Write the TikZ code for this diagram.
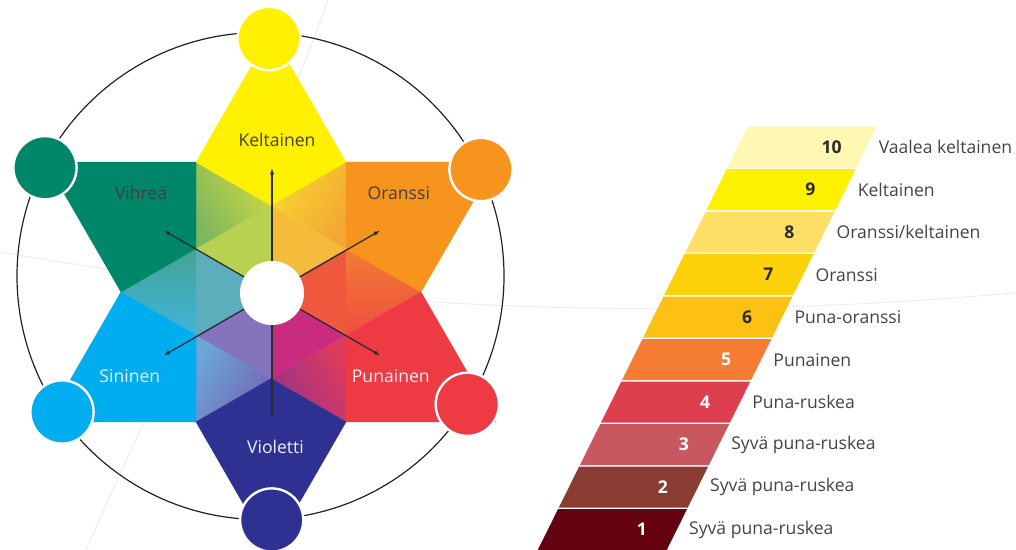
\documentclass[tikz,border=0pt]{standalone}
\usepackage{fontspec}
\setmainfont{Open Sans}
\usetikzlibrary{arrows.meta,
	calc,
	positioning}
\definecolor{cRed}{HTML}{EE3A43}
\definecolor{cVio}{HTML}{2E3192}
\definecolor{cBlu}{HTML}{00AEEF}
\definecolor{cGre}{HTML}{00876A}
\definecolor{cYel}{HTML}{FFF100}
\definecolor{cOra}{HTML}{F7941D}
% blends between neighbouring petals
\definecolor{pOR}{HTML}{F37C36}
\definecolor{pRO}{HTML}{EE4E3F}
\definecolor{pRV}{HTML}{DF3B5C}
\definecolor{pVR}{HTML}{9C3189}
\definecolor{pVB}{HTML}{7467B4}
\definecolor{pBV}{HTML}{6BA6DA}
\definecolor{pBG}{HTML}{3FB4DC}
\definecolor{pGB}{HTML}{45A394}
\definecolor{pGY}{HTML}{7DB75E}
\definecolor{pYG}{HTML}{CDD742}
\definecolor{pYO}{HTML}{F6D62F}
\definecolor{pOY}{HTML}{F4A734}
\definecolor{mOR}{HTML}{F0583E}
\definecolor{mRV}{HTML}{C92C7E}
\definecolor{mVB}{HTML}{8374BC}
\definecolor{mBG}{HTML}{5CAEBC}
\definecolor{mGY}{HTML}{B6D250}
\definecolor{mYO}{HTML}{F5BC3C}
% scale bands
\definecolor{b10}{HTML}{FFF8B2}
\definecolor{b9}{HTML}{FFF200}
\definecolor{b8}{HTML}{FFDF66}
\definecolor{b7}{HTML}{FDD20A}
\definecolor{b6}{HTML}{FDC113}
\definecolor{b5}{HTML}{F47D33}
\definecolor{b4}{HTML}{DD3F4E}
\definecolor{b3}{HTML}{C9575F}
\definecolor{b2}{HTML}{8B3C32}
\definecolor{b1}{HTML}{630210}
\definecolor{txtdark}{HTML}{2B2B2B}
\definecolor{txtgray}{HTML}{444444}
\definecolor{txtlight}{HTML}{EEF0F5}
\definecolor{ringcol}{HTML}{222222}
\tikzset{
	lbl/.style={font=\fontsize{12.5}{15}\selectfont, text=txtdark!90},
	lbllight/.style={lbl, text=txtlight},
	dot/.style={circle, minimum size=1.58cm, inner sep=0pt, draw=white, line width=0.06cm},
	hub/.style={circle, fill=white, minimum size=1.6cm, inner sep=0pt},
	spoke/.style={draw=txtdark, line width=0.032cm, -{Latex[length=0.16cm,width=0.11cm]}},
	ring/.style={draw=ringcol, line width=0.03cm},
	faint/.style={draw=black!7, line width=0.025cm},
	num/.style={font=\fontsize{12.5}{15}\selectfont\bfseries, inner sep=0pt},
	capt/.style={font=\fontsize{12.5}{15}\selectfont, text=txtgray, inner sep=0pt},
}

\begin{document}
\begin{tikzpicture}[x=0.025cm,y=-0.025cm]
\useasboundingbox (0,0) rectangle (1016,550);
\draw[faint] (0,252) arc[start angle=99.8, end angle=84.8, radius=3895];
\draw[faint] (328,0) .. controls (260,190) and (160,380) .. (86,550);
\draw[ring] (260.5,276) circle (243.5);

\coordinate (c) at (271,292);
\foreach \k in {0,...,5}{
	\path (c) ++({30+60*\k}:259.8) coordinate (t\k);
	\path (c) ++({60*\k}:150) coordinate (h\k);
	\path (c) ++({30+60*\k}:86.6) coordinate (p\k);
}
\foreach \k/\ca/\cb/\cc in {0/pOR/pRO/mOR,1/pRV/pVR/mRV,2/pVB/pBV/mVB,3/pBG/pGB/mBG,4/pGY/pYG/mGY,5/pYO/pOY/mYO}{
	\pgfmathtruncatemacro\km{mod(\k+5,6)}
	\pgfmathsetmacro\sa{180-60*\k}
	\filldraw[\cc, line width=0.3pt, line join=round] (c) -- (p\km) -- (p\k) -- cycle;
	\shade[bottom color=\ca, top color=\cb, shading angle=\sa] (h\k) -- (p\km) -- (p\k) -- cycle;
}
\foreach \k/\pc in {0/cRed,1/cVio,2/cBlu,3/cGre,4/cYel,5/cOra}{
	\pgfmathtruncatemacro\kk{mod(\k+1,6)}
	\filldraw[\pc, line width=0.3pt, line join=round] (t\k) -- (h\k) -- (p\k) -- (h\kk) -- cycle;
}

\node[hub] (hub) at (272,293) {};
\foreach \a [count=\i] in {270,330,30,90,150,210}{
	\path (hub.center) ++(\a:125) coordinate (s\i);
	\draw[spoke] (hub) -- (s\i);
}

\foreach \nm/\col/\x/\y in {yel/cYel/269/38.5, ora/cOra/481/169.5, red/cRed/467.3/404.3,
	vio/cVio/271.7/520, blu/cBlu/62/412, gre/cGre/45/167.7}
	\node[dot, fill=\col] (d\nm) at (\x,\y) {};

\node[lbl] (kelt) at (277,139.6) {Keltainen};
\node[lbl] (vihr) at (141,193) {Vihreä};
\node[lbl] (oran) at (398.8,193) {Oranssi};
\node[lbllight] (sini) at (129.8,376.4) {Sininen};
\node[lbllight] (puna) at (390.8,376.4) {Punainen};
\node[lbllight] (viol) at (275.5,447) {Violetti};

\foreach \n/\col/\nc/\txt [count=\j from 0] in {10/b10/txtdark/Vaalea keltainen,
	9/b9/txtdark/Keltainen, 8/b8/txtdark/{Oranssi/keltainen}, 7/b7/txtdark/Oranssi,
	6/b6/txtdark/Puna-oranssi, 5/b5/white/Punainen, 4/b4/white/Puna-ruskea,
	3/b3/white/Syvä puna-ruskea, 2/b2/white/Syvä puna-ruskea, 1/b1/white/Syvä puna-ruskea}{
	\pgfmathsetmacro\yt{126.7+42.5*\j}
	\pgfmathsetmacro\yb{\yt+41}
	\pgfmathsetmacro\ym{\yt+20.5}
	\pgfmathsetmacro\xt{747.7-0.496*(\yt-126.7)}
	\pgfmathsetmacro\xb{747.7-0.496*(\yb-126.7)}
	\pgfmathsetmacro\xm{876.7-0.496*(\ym-126.7)}
	\fill[\col] (\xt,\yt) -- ++(129,0) -- (\xb+129,\yb) -- (\xb,\yb) -- cycle;
	\coordinate (e\n) at (\xm,\ym);
	\node[num, text=\nc] (n\n) at ($(e\n)+(-35,0)$) {\n};
	\node[capt, right=0.3cm of e\n] (l\n) {\txt};
}
\end{tikzpicture}
\end{document}
